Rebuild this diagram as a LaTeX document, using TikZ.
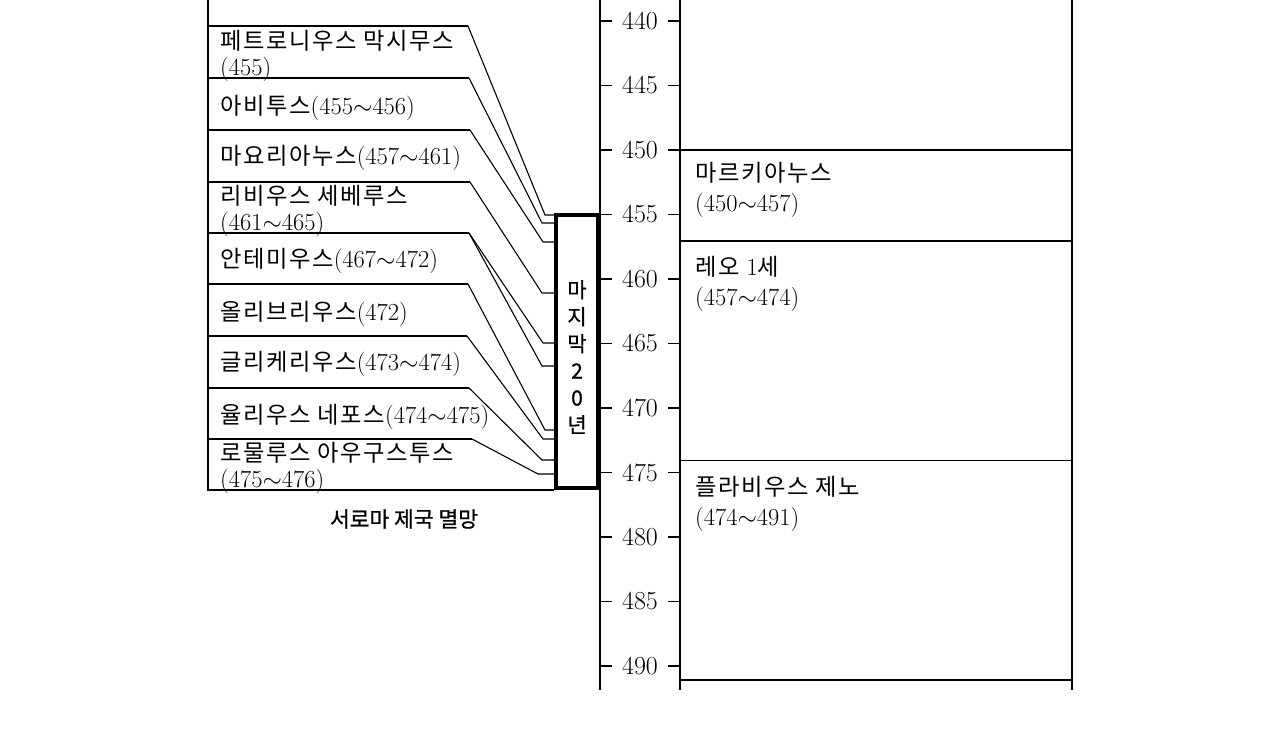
\documentclass[tikz,border=0pt]{standalone}
\usepackage{fontspec}
\newfontfamily\kr[Scale=0.95,LetterSpace=7]{Noto Sans CJK KR}
\newfontfamily\krsans[FakeBold=0.8]{Noto Sans CJK KR}
\newcommand\rng[2]{(#1$\sim$#2)}
\begin{document}
\begin{tikzpicture}[x=1pt,y=-1pt,
  rule/.style={line width=1.1pt},
  axisl/.style={line width=1.6pt},
  boxl/.style={line width=3.2pt},
  lbl/.style={anchor=west,inner sep=0pt,align=left,font=\fontsize{24.5}{26}\selectfont},
  rlbl/.style={anchor=west,inner sep=0pt,align=left,font=\fontsize{24.5}{30}\selectfont},
  ylbl/.style={inner sep=0pt,font=\fontsize{26}{26}\selectfont},
  conn/.style={line width=1.1pt,line join=miter}]
\fill[white] (0,0) rectangle (1280,735);
\useasboundingbox (0,0) rectangle (1280,735);
% time axis
\draw[axisl] (600,0) -- (600,690);
\foreach \yr in {440,445,...,490}{
  \pgfmathsetmacro\yy{21+(\yr-440)*12.9}
  \draw[rule] (600,\yy) -- (612,\yy) (668,\yy) -- (680,\yy);
  \node[ylbl] (y\yr) at (640,\yy) {\yr};
}
% eastern emperors column
\draw[rule] (680,0) -- (680,690) (1072,0) -- (1072,690);
\draw[rule] (680,150) -- (1072,150) (680,241) -- (1072,241)
  (680,460.5) -- (1072,460.5) (680,680) -- (1072,680);
\node[rlbl] (marc) at (695,190) {{\kr 마르키아누스}\\\rng{450}{457}};
\node[rlbl] (leo) at (695,284) {{\kr 레오 }1{\kr 세}\\\rng{457}{474}};
\node[rlbl] (zeno) at (695,504) {{\kr 플라비우스 제노}\\\rng{474}{491}};
% last 20 years box
\node[draw,boxl,minimum width=42pt,minimum height=273pt,inner sep=0pt] (box) at (577,351.5) {};
\node[inner sep=0pt,align=center,font=\krsans\fontsize{21}{27}\selectfont] (boxtxt) at (577,357) {마\\지\\막\\2\\0\\년};
% western emperors table
\draw[rule] (208,0) -- (208,490) -- (box.west |- 0,490);
\coordinate (c1) at (468,26);
\coordinate (c2) at (469,78);
\coordinate (c3) at (470,130);
\coordinate (c4) at (470,182);
\coordinate (c5) at (469,233);
\coordinate (c6) at (468,284);
\coordinate (c7) at (467,336);
\coordinate (c8) at (469,388);
\coordinate (c9) at (472,439);
\foreach \c in {1,...,9}{ \draw[rule] (208,0 |- c\c) -- (c\c); }
\coordinate (s1) at (545,215);
\coordinate (s2) at (542,223);
\coordinate (s3) at (543,242);
\coordinate (s4) at (542,293);
\coordinate (s5) at (543,343);
\coordinate (s6) at (542,366);
\coordinate (s7) at (545,430);
\coordinate (s8) at (543,439);
\coordinate (s9) at (542,460);
\coordinate (s10) at (538,474);
\draw[conn] (c1) -- (s1) -- (s1 -| box.west);
\draw[conn] (c2) -- (s2) -- (s2 -| box.west);
\draw[conn] (c3) -- (s3) -- (s3 -| box.west);
\draw[conn] (c4) -- (s4) -- (s4 -| box.west);
\draw[conn] (c5) -- (s5) -- (s5 -| box.west);
\draw[conn] (c5) -- (s6) -- (s6 -| box.west);
\draw[conn] (c6) -- (s7) -- (s7 -| box.west);
\draw[conn] (c7) -- (s8) -- (s8 -| box.west);
\draw[conn] (c8) -- (s9) -- (s9 -| box.west);
\draw[conn] (c9) -- (s10) -- (s10 -| box.west);
\node[lbl] (e1) at (220,56) {{\kr 페트로니우스 막시무스}\\(455)};
\node[lbl] (e2) at (220,108) {{\kr 아비투스}\rng{455}{456}};
\node[lbl] (e3) at (220,158) {{\kr 마요리아누스}\rng{457}{461}};
\node[lbl] (e4) at (220,211) {{\kr 리비우스 세베루스}\\\rng{461}{465}};
\node[lbl] (e5) at (220,261) {{\kr 안테미우스}\rng{467}{472}};
\node[lbl] (e6) at (220,314) {{\kr 올리브리우스}(472)};
\node[lbl] (e7) at (220,364) {{\kr 글리케리우스}\rng{473}{474}};
\node[lbl] (e8) at (220,417) {{\kr 율리우스 네포스}\rng{474}{475}};
\node[lbl] (e9) at (220,468) {{\kr 로물루스 아우구스투스}\\\rng{475}{476}};
\node[inner sep=0pt,font=\krsans\fontsize{21.5}{21.5}\selectfont] (fall) at (404,519) {서로마 제국 멸망};
\end{tikzpicture}
\end{document}
